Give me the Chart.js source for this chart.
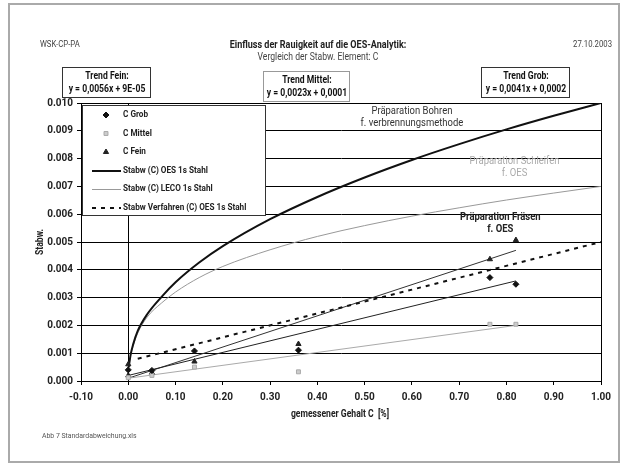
<!DOCTYPE html>
<html lang="de">
<head>
<meta charset="UTF-8">
<title>Einfluss der Rauigkeit auf die OES-Analytik</title>
<script src="https://cdn.jsdelivr.net/npm/chart.js"></script>
<style>
  html, body { margin: 0; padding: 0; background: #fff; }
  #wrap { position: relative; width: 628px; height: 468px; }
</style>
</head>
<body>
<div id="wrap"><canvas id="chart" width="628" height="468"></canvas></div>
<script>
const FONT = "Roboto, 'DejaVu Sans', sans-serif";
const SCHMAL = 0.86; // Schrift horizontal stauchen (DIN-aehnlich)

// Messpunkte
const xGrob   = [0.00, 0.05, 0.14, 0.36, 0.765, 0.82];
const yGrob   = [0.00040, 0.00038, 0.00108, 0.00111, 0.00372, 0.00348];
const xMittel = [0.00, 0.05, 0.14, 0.36, 0.765, 0.82];
const yMittel = [0.00012, 0.00020, 0.00050, 0.00033, 0.00204, 0.00204];
const xFein   = [0.00, 0.00, 0.05, 0.14, 0.36, 0.765, 0.82];
const yFein   = [0.00060, 0.00020, 0.00030, 0.00070, 0.00133, 0.00438, 0.00507];

// Kurven Stabw OES / LECO
const xKurve = [0.001, 0.005, 0.01, 0.02, 0.04, 0.07, 0.1, 0.15, 0.2, 0.3, 0.4, 0.5, 0.6, 0.7, 0.8, 0.9, 1.0];
const yOES   = [0.0005, 0.00095, 0.0013, 0.0018, 0.0024, 0.00302, 0.00355, 0.00426, 0.00485, 0.00582, 0.00662, 0.00732, 0.00795, 0.00852, 0.00905, 0.00954, 0.0100];
const yLECO  = [0.0005, 0.00092, 0.00125, 0.00172, 0.0023, 0.0028, 0.0032, 0.00372, 0.00412, 0.00472, 0.0052, 0.00559, 0.00593, 0.00623, 0.00651, 0.00676, 0.0070];

// Stabw Verfahren (gerade)
const xVerfahren = [0.02, 1.0];
const yVerfahren = [0.0008, 0.0050];

// Trendlinien
const xTrend       = [0.0, 0.82];
const yTrendGrob   = [0.0002, 0.0036];
const yTrendMittel = [0.0001, 0.0020];
const yTrendFein   = [0.0001, 0.0047];

const kopfLinks  = 'WSK-CP-PA';
const titel      = 'Einfluss der Rauigkeit auf die OES-Analytik:';
const untertitel = 'Vergleich der Stabw. Element: C';
const datum      = '27.10.2003';
const fussnote   = 'Abb 7 Standardabweichung.xls';
const xTitel     = 'gemessener Gehalt C  [%]';
const yTitel     = 'Stabw.';
const trendBoxen = [
  { t1: 'Trend Fein:',   t2: 'y = 0,0056x + 9E-05' },
  { t1: 'Trend Mittel:', t2: 'y = 0,0023x + 0,0001' },
  { t1: 'Trend Grob:',   t2: 'y = 0,0041x + 0,0002' }
];
const hinweise = [
  { x: 0.60,  y: 0.0097, zeilen: ['Präparation Bohren', 'f. verbrennungsmethode'], farbe: '#333', fett: false },
  { x: 0.817, y: 0.0079, zeilen: ['Präparation Schleifen', 'f. OES'], farbe: '#aaa', fett: false },
  { x: 0.787, y: 0.0059, zeilen: ['Präparation Fräsen', 'f. OES'], farbe: '#222', fett: true }
];

const pts = (xs, ys) => xs.map((x, i) => ({ x: x, y: ys[i] }));

const datasets = [
  { label: 'C Grob', legende: true, data: pts(xGrob, yGrob), showLine: false,
    pointStyle: 'rectRot', pointRadius: 3, backgroundColor: '#111', borderColor: '#111', borderWidth: 1 },
  { label: 'C Mittel', legende: true, data: pts(xMittel, yMittel), showLine: false,
    pointStyle: 'rect', pointRadius: 2.8, backgroundColor: '#ccc', borderColor: '#aaa', borderWidth: 1 },
  { label: 'C Fein', legende: true, data: pts(xFein, yFein), showLine: false,
    pointStyle: 'triangle', pointRadius: 3, backgroundColor: '#222', borderColor: '#222', borderWidth: 1 },
  { label: 'Stabw (C) OES 1s Stahl', legende: true, data: pts(xKurve, yOES), showLine: true,
    borderColor: '#111', borderWidth: 2, pointRadius: 0, cubicInterpolationMode: 'monotone' },
  { label: 'Stabw (C) LECO 1s Stahl', legende: true, data: pts(xKurve, yLECO), showLine: true,
    borderColor: '#999', borderWidth: 1, pointRadius: 0, cubicInterpolationMode: 'monotone' },
  { label: 'Stabw Verfahren (C) OES 1s Stahl', legende: true, data: pts(xVerfahren, yVerfahren), showLine: true,
    borderColor: '#111', borderWidth: 2, borderDash: [4, 5], pointRadius: 0 },
  { label: 'Trend Grob', data: pts(xTrend, yTrendGrob), showLine: true,
    borderColor: '#222', borderWidth: 1, pointRadius: 0 },
  { label: 'Trend Mittel', data: pts(xTrend, yTrendMittel), showLine: true,
    borderColor: '#aaa', borderWidth: 1, pointRadius: 0 },
  { label: 'Trend Fein', data: pts(xTrend, yTrendFein), showLine: true,
    borderColor: '#333', borderWidth: 1, pointRadius: 0 }
];

// Text mit schmaler Laufweite
function text(ctx, s, x, y, align) {
  ctx.save();
  ctx.translate(x, y);
  ctx.scale(SCHMAL, 1);
  ctx.textAlign = align || 'left';
  ctx.textBaseline = 'middle';
  ctx.fillText(s, 0, 0);
  ctx.restore();
}

// Rahmen, Achsenkreuz bei x = 0, Plotrahmen
const rahmenPlugin = {
  id: 'rahmen',
  beforeDraw(chart) {
    const ctx = chart.ctx;
    ctx.save();
    ctx.fillStyle = '#fff';
    ctx.fillRect(0, 0, chart.width, chart.height);
    ctx.strokeStyle = '#aaa';
    ctx.lineWidth = 2;
    ctx.strokeRect(9, 4, 610, 458);
    ctx.restore();
  },
  beforeDatasetsDraw(chart) {
    const { ctx, chartArea: a, scales } = chart;
    ctx.save();
    ctx.strokeStyle = '#000';
    ctx.lineWidth = 1;
    ctx.strokeRect(Math.round(a.left) + 0.5, Math.round(a.top) + 0.5, Math.round(a.right - a.left), Math.round(a.bottom - a.top));
    const x0 = Math.round(scales.x.getPixelForValue(0)) + 0.5;
    ctx.beginPath();
    ctx.moveTo(x0, a.top);
    ctx.lineTo(x0, a.bottom);
    ctx.stroke();
    ctx.restore();
  }
};

// Legende im Plot, Texte, Trendboxen
const textPlugin = {
  id: 'texte',
  afterDatasetsDraw(chart) {
    const { ctx, scales } = chart;
    ctx.save();

    // Hinweise im Diagramm
    hinweise.forEach(h => {
      const px = scales.x.getPixelForValue(h.x);
      const py = scales.y.getPixelForValue(h.y);
      ctx.font = (h.fett ? 'bold ' : '') + '11px ' + FONT;
      ctx.fillStyle = h.farbe;
      h.zeilen.forEach((z, i) => text(ctx, z, px, py + i * 12, 'center'));
    });

    // Legende
    const bx = 82, by = 105, bw = 183, bh = 110;
    ctx.fillStyle = '#fff';
    ctx.fillRect(bx, by, bw, bh);
    ctx.strokeStyle = '#333';
    ctx.lineWidth = 1;
    ctx.strokeRect(bx + 0.5, by + 0.5, bw, bh);
    let ly = by + 10;
    chart.data.datasets.filter(d => d.legende).forEach(d => {
      if (d.showLine) {
        ctx.save();
        ctx.strokeStyle = d.borderColor;
        ctx.lineWidth = d.borderWidth;
        ctx.setLineDash(d.borderDash || []);
        ctx.beginPath();
        ctx.moveTo(92, ly + 0.5);
        ctx.lineTo(121, ly + 0.5);
        ctx.stroke();
        ctx.restore();
      } else {
        ctx.save();
        ctx.fillStyle = d.backgroundColor;
        ctx.strokeStyle = d.borderColor;
        Chart.helpers.drawPoint(ctx, { pointStyle: d.pointStyle, radius: d.pointRadius, rotation: 0, borderWidth: d.borderWidth }, 106, ly);
        ctx.restore();
      }
      ctx.font = 'bold 9.5px ' + FONT;
      ctx.fillStyle = '#222';
      text(ctx, d.label, 123, ly, 'left');
      ly += 18.5;
    });

    // Kopfzeile
    ctx.fillStyle = '#444';
    ctx.font = '9px ' + FONT;
    text(ctx, kopfLinks, 40, 45, 'left');
    text(ctx, datum, 612, 45, 'right');
    ctx.fillStyle = '#222';
    ctx.font = 'bold 10.5px ' + FONT;
    text(ctx, titel, 318, 45, 'center');
    ctx.font = '10px ' + FONT;
    ctx.fillStyle = '#444';
    text(ctx, untertitel, 318, 57, 'center');

    // Trendboxen
    const boxen = [
      { x: 62, y: 67, w: 88, h: 30, strich: [] },
      { x: 263, y: 71, w: 86, h: 30, strich: [1, 1] },
      { x: 481, y: 67, w: 88, h: 30, strich: [] }
    ];
    boxen.forEach((b, i) => {
      ctx.save();
      ctx.setLineDash(b.strich);
      ctx.strokeStyle = '#333';
      ctx.fillStyle = '#fff';
      ctx.fillRect(b.x, b.y, b.w, b.h);
      ctx.strokeRect(b.x + 0.5, b.y + 0.5, b.w, b.h);
      ctx.restore();
      ctx.fillStyle = '#111';
      ctx.font = 'bold 10px ' + FONT;
      text(ctx, trendBoxen[i].t1, b.x + b.w / 2 + 1, b.y + 9, 'center');
      text(ctx, trendBoxen[i].t2, b.x + b.w / 2 + 1, b.y + 22, 'center');
    });

    // Achsentitel
    ctx.font = 'bold 10px ' + FONT;
    ctx.fillStyle = '#222';
    text(ctx, xTitel, 340, 414, 'center');
    ctx.save();
    ctx.translate(40, 242);
    ctx.rotate(-Math.PI / 2);
    text(ctx, yTitel, 0, 0, 'center');
    ctx.restore();

    // Fussnote
    ctx.font = '8px ' + FONT;
    ctx.fillStyle = '#555';
    text(ctx, fussnote, 42, 436, 'left');

    ctx.restore();
  }
};

new Chart(document.getElementById('chart'), {
  type: 'scatter',
  data: { datasets: datasets },
  options: {
    responsive: false,
    animation: false,
    devicePixelRatio: 1,
    layout: { padding: { top: 103, right: 27, left: 0, bottom: 0 } },
    plugins: { legend: { display: false }, tooltip: { enabled: false } },
    scales: {
      x: {
        type: 'linear', min: -0.1, max: 1.0,
        ticks: { stepSize: 0.1, callback: v => v.toFixed(2), font: { family: FONT, size: 10, weight: 'bold' },
                 color: '#222', padding: 6, maxRotation: 0, autoSkip: false },
        grid: { drawOnChartArea: false, drawTicks: true, tickLength: 4, color: '#000' },
        border: { color: '#000' },
        afterFit: s => { s.height = 87; }
      },
      y: {
        type: 'linear', min: 0, max: 0.01,
        ticks: { stepSize: 0.001, callback: v => v.toFixed(3), font: { family: FONT, size: 10, weight: 'bold' },
                 color: '#222', padding: 4 },
        grid: { color: '#000', lineWidth: 1, tickLength: 4 },
        border: { color: '#000' },
        afterFit: s => { s.width = 81; }
      }
    }
  },
  plugins: [rahmenPlugin, textPlugin]
});
</script>
</body>
</html>
